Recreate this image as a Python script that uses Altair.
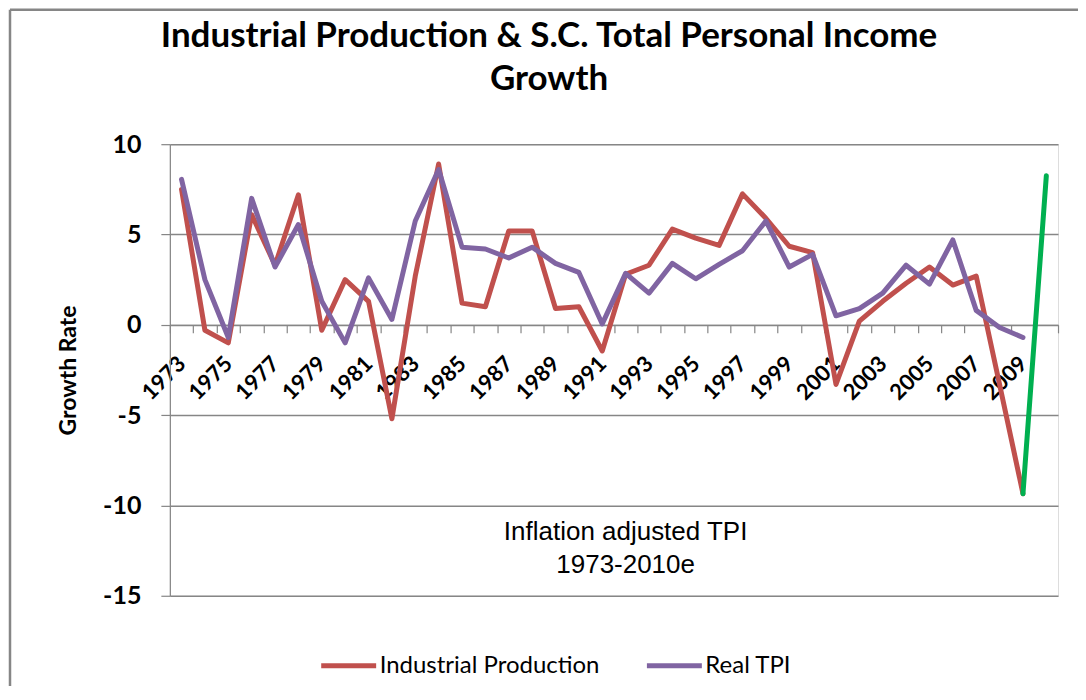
import altair as alt
import pandas as pd

years = [str(y) for y in range(1973, 2010)]
industrial_production = [7.5, -0.3, -1.0, 6.1, 3.3, 7.2, -0.3, 2.5, 1.3, -5.2,
                         2.7, 8.9, 1.2, 1.0, 5.2, 5.2, 0.9, 1.0, -1.45, 2.8,
                         3.3, 5.3, 4.8, 4.4, 7.25, 5.9, 4.35, 4.0, -3.3, 0.2,
                         1.3, 2.3, 3.2, 2.2, 2.7, -3.3, -9.35]
real_tpi = [8.05, 2.5, -0.7, 7.0, 3.2, 5.55, 1.3, -1.0, 2.6, 0.3,
            5.75, 8.6, 4.3, 4.2, 3.7, 4.3, 3.4, 2.9, 0.05, 2.85,
            1.75, 3.4, 2.55, 3.35, 4.1, 5.75, 3.2, 3.9, 0.5, 0.9,
            1.75, 3.3, 2.25, 4.7, 0.8, -0.15, -0.7]
est_years = ["2009", "2010"]
est_values = [-9.35, 8.25]
all_years = [str(y) for y in range(1973, 2011)]
note_lines = ["Inflation adjusted TPI", "1973-2010e"]
note_x = ["1992", "1992"]
note_y = [-11.45, -13.3]

series_names = ["Industrial Production", "Real TPI"]
series_colors = ["#C0504D", "#8064A2"]

rows = []
for name, vals in zip(series_names, [industrial_production, real_tpi]):
    for y, v in zip(years, vals):
        rows.append({"year": y, "value": v, "series": name})
df = pd.DataFrame(rows)
df_est = pd.DataFrame({"year": est_years, "value": est_values})
df_note = pd.DataFrame({"year": note_x, "value": note_y, "text": note_lines})

W, H = 889, 452
ymin, ymax = -15, 10
zero_off = -(H - H * (ymax - 0) / (ymax - ymin))

GRAY = "#868686"
FONT = "Lato"

x_enc = alt.X(
    "year:N",
    scale=alt.Scale(domain=all_years, paddingInner=0, paddingOuter=0),
    axis=alt.Axis(
        title=None,
        offset=zero_off,
        domainColor=GRAY,
        domainWidth=1.2,
        tickColor=GRAY,
        tickWidth=1.2,
        tickSize=8,
        tickBand="extent",
        labelAngle=-45,
        labelAlign="right",
        labelBaseline="middle",
        labelPadding=27,
        labelFont=FONT,
        labelFontSize=22,
        labelFontWeight="bold",
        labelColor="#000000",
        labelExpr="parseInt(datum.label) % 2 == 1 ? datum.label : ''",
        labelOverlap=False,
        grid=False,
    ),
)
y_scale = alt.Scale(domain=[ymin, ymax], nice=False, zero=False)
y_enc = alt.Y(
    "value:Q",
    scale=y_scale,
    axis=alt.Axis(
        title="Growth Rate",
        titleFont=FONT,
        titleFontSize=23,
        titleFontWeight="bold",
        titleColor="#000000",
        titlePadding=22,
        values=[-15, -10, -5, 0, 5, 10],
        labelExpr="'' + datum.value",
        labelFont=FONT,
        labelFontSize=25,
        labelFontWeight="bold",
        labelColor="#000000",
        labelPadding=20,
        tickColor=GRAY,
        tickWidth=1.2,
        tickSize=9,
        domainColor=GRAY,
        domainWidth=1.2,
        gridColor=GRAY,
        gridWidth=1.5,
    ),
)

lines = alt.Chart(df).mark_line(strokeWidth=5, strokeCap="round", strokeJoin="round").encode(
    x=x_enc,
    y=y_enc,
    color=alt.Color(
        "series:N",
        scale=alt.Scale(domain=series_names, range=series_colors),
        legend=alt.Legend(
            title=None,
            orient="none",
            legendX=149,
            legendY=492,
            direction="horizontal",
            symbolType="stroke",
            symbolSize=3025,
            symbolStrokeWidth=5,
            labelFont=FONT,
            labelFontSize=24,
            labelColor="#000000",
            labelLimit=400,
            labelOffset=1,
            columnPadding=36,
        ),
    ),
)

est = alt.Chart(df_est).mark_line(strokeWidth=5, strokeCap="round", color="#00B050").encode(
    x=alt.X("year:N"),
    y=alt.Y("value:Q"),
)

note = alt.Chart(df_note).mark_text(
    font="Liberation Sans", fontSize=26, color="#000000", align="center", baseline="middle"
).encode(
    x=alt.X("year:N"),
    y=alt.Y("value:Q"),
    text="text:N",
)

frame_df = pd.DataFrame({"k": [0]})
frame_left = alt.Chart(frame_df).mark_rule(color=GRAY, strokeWidth=2.5, clip=False).encode(
    x=alt.value(-160), y=alt.value(-134.5), y2=alt.value(H + 100)
)
frame_top = alt.Chart(frame_df).mark_rule(color=GRAY, strokeWidth=2.5, clip=False).encode(
    x=alt.value(-160), x2=alt.value(W + 40), y=alt.value(-134.5)
)

chart = alt.layer(frame_left, frame_top, lines, est, note).properties(
    width=W,
    height=H,
    title=alt.TitleParams(
        text=["Industrial Production & S.C. Total Personal Income", "Growth"],
        font=FONT,
        fontSize=35,
        fontWeight="bold",
        color="#000000",
        anchor="middle",
        frame="group",
        dx=-65,
        dy=125,
        offset=36,
        lineHeight=44,
    ),
    autosize=alt.AutoSizeParams(type="none"),
    padding={"left": 162, "top": 136, "right": 20, "bottom": 90},
).configure_view(strokeWidth=0).configure(background="#ffffff")

chart.save("out.html", embed_options={"renderer": "svg", "actions": False})
